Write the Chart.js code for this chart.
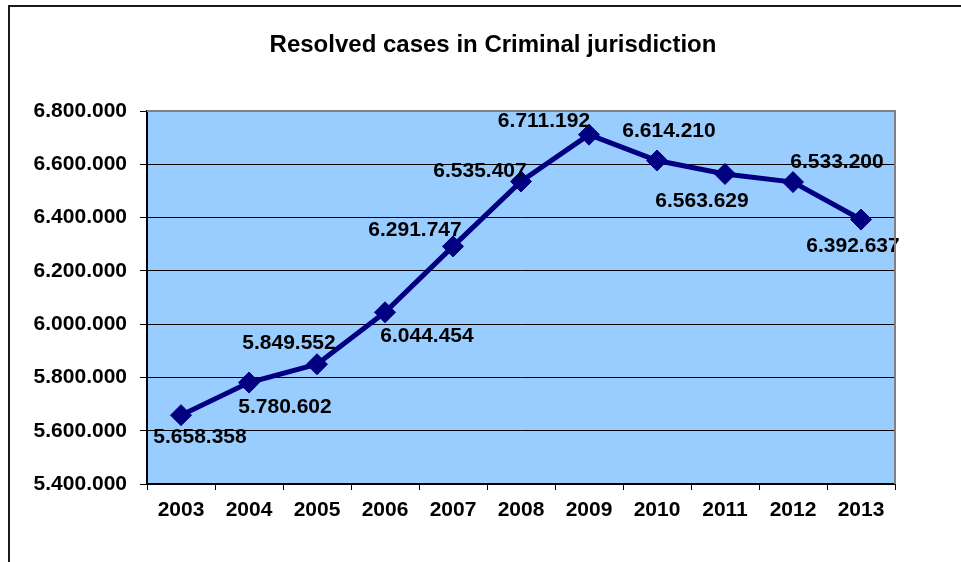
<!DOCTYPE html>
<html>
<head>
<meta charset="utf-8">
<script src="https://cdn.jsdelivr.net/npm/chart.js@4/dist/chart.umd.min.js"></script>
<style>
  html, body { margin: 0; padding: 0; background: #fff; }
  #wrap { width: 961px; height: 562px; }
</style>
</head>
<body>
<div id="wrap"><canvas id="casesChart" width="961" height="562"></canvas></div>
<script>
const years = ["2003", "2004", "2005", "2006", "2007", "2008", "2009", "2010", "2011", "2012", "2013"];
const resolvedCases = [5658358, 5780602, 5849552, 6044454, 6291747, 6535407, 6711192, 6614210, 6563629, 6533200, 6392637];
const yTickValues = [5400000, 5600000, 5800000, 6000000, 6200000, 6400000, 6600000, 6800000];
const chartTitle = "Resolved cases in Criminal jurisdiction";

// where each value label sits relative to its point (px)
const labelOffsets = [
    [19, 22], [36, 25], [-28, -21], [42, 24], [-38, -16], [-41, -10],
    [-45, -13], [12, -29], [-23, 27], [44, -20], [-8, 27]
];

const FONT = "'Liberation Sans', Arial, sans-serif";

function dotted(n) {
    return String(Math.round(n)).replace(/\B(?=(\d{3})+(?!\d))/g, ".");
}

const plotDecor = {
    id: "plotDecor",
    beforeDraw(chart) {
        const { ctx, chartArea: a } = chart;
        ctx.save();
        ctx.fillStyle = "#99CCFF";
        ctx.fillRect(a.left, a.top, a.right - a.left, a.bottom - a.top);
        // outer frame
        ctx.strokeStyle = "#1a1a1a";
        ctx.lineWidth = 2;
        ctx.strokeRect(9, 6, 1000, 600);
        // title
        ctx.fillStyle = "#000";
        ctx.font = "bold 24px " + FONT;
        ctx.textAlign = "center";
        ctx.textBaseline = "middle";
        ctx.fillText(chartTitle, 493, 45);
        ctx.restore();
    },
    afterDraw(chart) {
        const { ctx, chartArea: a } = chart;
        ctx.save();
        ctx.strokeStyle = "#808080";
        ctx.lineWidth = 2;
        ctx.beginPath();
        ctx.moveTo(a.left, a.top);
        ctx.lineTo(a.right, a.top);
        ctx.lineTo(a.right, a.bottom);
        ctx.stroke();
        ctx.restore();
    }
};

const valueLabels = {
    id: "valueLabels",
    afterDatasetsDraw(chart) {
        const { ctx } = chart;
        const meta = chart.getDatasetMeta(0);
        ctx.save();
        ctx.font = "bold 21px " + FONT;
        ctx.fillStyle = "#000";
        ctx.textAlign = "center";
        ctx.textBaseline = "middle";
        meta.data.forEach((pt, i) => {
            const off = labelOffsets[i];
            ctx.fillText(dotted(resolvedCases[i]), pt.x + off[0], pt.y + off[1]);
        });
        ctx.restore();
    }
};

new Chart(document.getElementById("casesChart"), {
    type: "line",
    data: {
        labels: years,
        datasets: [{
            data: resolvedCases,
            borderColor: "#000080",
            backgroundColor: "#000080",
            borderWidth: 5,
            pointStyle: "rectRot",
            pointRadius: 10.5,
            pointHoverRadius: 10.5,
            pointBorderWidth: 1,
            tension: 0,
        }],
    },
    options: {
        responsive: false,
        animation: false,
        events: [],
        layout: { padding: { left: 0, right: 66, top: 111, bottom: 0 } },
        plugins: {
            legend: { display: false },
            tooltip: { enabled: false },
            title: { display: false },
        },
        scales: {
            x: {
                offset: true,
                grid: {
                    offset: true,
                    color: "transparent",
                    tickColor: "#000",
                    tickLength: 6,
                    drawOnChartArea: false,
                },
                border: { color: "#000", width: 2 },
                ticks: {
                    color: "#000",
                    font: { family: FONT, size: 21, weight: "bold" },
                    padding: 8,
                    maxRotation: 0,
                },
                afterFit(scale) { scale.height = 78; },
            },
            y: {
                min: 5400000,
                max: 6800000,
                afterBuildTicks(scale) {
                    scale.ticks = yTickValues.map(v => ({ value: v }));
                },
                grid: {
                    color: "#000",
                    lineWidth: 1,
                    tickColor: "#000",
                    tickLength: 7,
                },
                border: { color: "#000", width: 2 },
                ticks: {
                    color: "#000",
                    font: { family: FONT, size: 21, weight: "bold" },
                    padding: 13,
                    callback: v => dotted(v),
                },
                afterFit(scale) { scale.width = 147; },
            },
        },
    },
    plugins: [plotDecor, valueLabels],
});
</script>
</body>
</html>
